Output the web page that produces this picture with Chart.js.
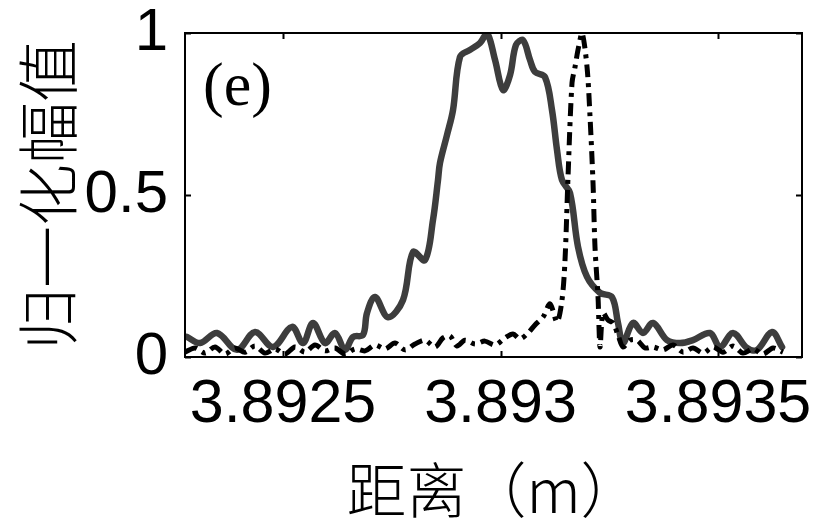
<!DOCTYPE html>
<html>
<head>
<meta charset="utf-8">
<script src="https://cdn.jsdelivr.net/npm/chart.js@4/dist/chart.umd.min.js"></script>
<style>
  html, body { margin: 0; padding: 0; background: #ffffff; }
  canvas { display: block; }
</style>
</head>
<body>
<canvas id="c" width="822" height="526"></canvas>
<script>
// ---- data ----
const distSolid = [3.8922793, 3.8923092, 3.8923483, 3.8923943, 3.8924356, 3.8924770, 3.8925207, 3.8925460,
  3.8925690, 3.8925966, 3.8926195, 3.8926425, 3.8926609, 3.8926839, 3.8926931, 3.8927115, 3.8927414,
  3.8927759, 3.8927989, 3.8928264, 3.8928448, 3.8928563, 3.8928609, 3.8928770, 3.8928908, 3.8929069,
  3.8929299, 3.8929529, 3.8929690, 3.8929874, 3.8930058, 3.8930219, 3.8930356, 3.8930517, 3.8930678,
  3.8930793, 3.8931023, 3.8931184, 3.8931299, 3.8931414, 3.8931598, 3.8931782, 3.8931989, 3.8932288,
  3.8932563, 3.8932701, 3.8932816, 3.8933046, 3.8933276, 3.8933506, 3.8933828, 3.8934127, 3.8934425,
  3.8934816, 3.8935046, 3.8935345, 3.8935667, 3.8935897, 3.8936242, 3.8936472];
const ampSolid = [0.062, 0.043, 0.074, 0.022, 0.077, 0.031, 0.093, 0.043,
  0.105, 0.043, 0.074, 0.022, 0.062, 0.068, 0.136, 0.185, 0.123,
  0.176, 0.324, 0.299, 0.423, 0.546, 0.599, 0.685, 0.762, 0.926,
  0.948, 0.969, 1.000, 0.917, 0.824, 0.870, 0.963, 0.978, 0.917,
  0.880, 0.864, 0.762, 0.639, 0.546, 0.506, 0.340, 0.247, 0.198,
  0.185, 0.105, 0.043, 0.105, 0.074, 0.105, 0.052, 0.043, 0.052,
  0.074, 0.031, 0.074, 0.028, 0.022, 0.077, 0.031];

const distDash = [3.8922747, 3.8922977, 3.8923207, 3.8923437, 3.8923667, 3.8923897, 3.8924126, 3.8924356,
  3.8924586, 3.8924816, 3.8925046, 3.8925276, 3.8925506, 3.8925736, 3.8925966, 3.8926195, 3.8926425,
  3.8926655, 3.8926885, 3.8927115, 3.8927345, 3.8927575, 3.8927805, 3.8928035, 3.8928264, 3.8928494,
  3.8928678, 3.8928839, 3.8929000, 3.8929184, 3.8929414, 3.8929644, 3.8929874, 3.8930104, 3.8930287,
  3.8930448, 3.8930632, 3.8930793, 3.8930977, 3.8931138, 3.8931299, 3.8931414, 3.8931483, 3.8931552,
  3.8931644, 3.8931713, 3.8931782, 3.8931874, 3.8931989, 3.8932058, 3.8932127, 3.8932172, 3.8932242,
  3.8932288, 3.8932356, 3.8932471, 3.8932586, 3.8932701, 3.8932816, 3.8932977, 3.8933138, 3.8933322,
  3.8933506, 3.8933736, 3.8933966, 3.8934196, 3.8934425, 3.8934655, 3.8934885, 3.8935115, 3.8935345,
  3.8935575, 3.8935805, 3.8936035, 3.8936265, 3.8936494];
const ampDash = [0.015, 0.028, 0.012, 0.031, 0.009, 0.028, 0.015, 0.034,
  0.012, 0.025, 0.009, 0.031, 0.015, 0.037, 0.019, 0.028, 0.009,
  0.025, 0.019, 0.037, 0.025, 0.043, 0.022, 0.040, 0.052, 0.031,
  0.059, 0.065, 0.034, 0.052, 0.040, 0.049, 0.037, 0.059, 0.071,
  0.056, 0.074, 0.099, 0.123, 0.164, 0.108, 0.176, 0.299, 0.556,
  0.846, 0.895, 0.948, 1.000, 0.895, 0.741, 0.537, 0.340, 0.185,
  0.031, 0.136, 0.114, 0.105, 0.068, 0.031, 0.052, 0.052, 0.028,
  0.031, 0.022, 0.037, 0.015, 0.028, 0.012, 0.031, 0.015, 0.034,
  0.012, 0.025, 0.009, 0.028, 0.015];

const xTickValues = [3.8925, 3.893, 3.8935];
const xTickLabels = ['3.8925', '3.893', '3.8935'];
const yTickValues = [0, 0.5, 1];
const yTickLabels = ['0', '0.5', '1'];
const xMin = 3.8922747, xMax = 3.8936931;
const yMin = 0, yMax = 1;
const xTitle = '距离（m）';
const yTitle = '归一化幅值';
const panelLabel = '(e)';

// ---- build chart ----
const toPoints = (xs, ys) => xs.map((v, i) => ({ x: v, y: ys[i] }));

const framePlugin = {
  id: 'frame',
  afterDatasetsDraw(chart) {
    const { ctx, chartArea: a, scales: { x, y } } = chart;
    ctx.save();
    ctx.strokeStyle = '#000';
    ctx.lineWidth = 2;
    ctx.strokeRect(a.left, a.top, a.right - a.left, a.bottom - a.top);
    const tl = 6;
    ctx.beginPath();
    x.ticks.forEach(t => {
      const p = Math.round(x.getPixelForValue(t.value)) + 0.5;
      ctx.moveTo(p, a.bottom); ctx.lineTo(p, a.bottom - tl);
      ctx.moveTo(p, a.top); ctx.lineTo(p, a.top + tl);
    });
    y.ticks.forEach(t => {
      const p = Math.round(y.getPixelForValue(t.value)) + 0.5;
      ctx.moveTo(a.left, p); ctx.lineTo(a.left + tl, p);
      ctx.moveTo(a.right, p); ctx.lineTo(a.right - tl, p);
    });
    ctx.stroke();
    ctx.fillStyle = '#000';
    ctx.font = '62px "Liberation Serif", "Times New Roman", serif';
    ctx.textBaseline = 'alphabetic';
    ctx.textAlign = 'left';
    ctx.fillText(panelLabel, a.left + 18, a.top + 72);
    ctx.restore();
  }
};

new Chart(document.getElementById('c'), {
  type: 'line',
  data: {
    datasets: [
      {
        data: toPoints(distDash, ampDash),
        borderColor: '#000000',
        borderWidth: 5,
        borderDash: [13, 6, 4, 6],
        borderCapStyle: 'butt',
        borderJoinStyle: 'round',
        pointRadius: 0,
        tension: 0.3,
        fill: false
      },
      {
        data: toPoints(distSolid, ampSolid),
        borderColor: '#3d3d3d',
        borderWidth: 6.5,
        borderCapStyle: 'round',
        borderJoinStyle: 'round',
        pointRadius: 0,
        tension: 0.35,
        fill: false
      }
    ]
  },
  options: {
    responsive: false,
    animation: false,
    events: [],
    layout: { padding: { top: 33, right: 20, left: 0, bottom: 0 } },
    plugins: { legend: { display: false }, tooltip: { enabled: false } },
    scales: {
      x: {
        type: 'linear',
        min: xMin, max: xMax,
        grid: { display: false, drawTicks: false },
        border: { display: false },
        afterBuildTicks: s => { s.ticks = xTickValues.map(v => ({ value: v })); },
        afterFit: s => { s.height = 169; s.paddingLeft = 0; s.paddingRight = 0; },
        ticks: {
          color: '#000',
          padding: 12,
          maxRotation: 0,
          autoSkip: false,
          font: { family: '"Liberation Sans", Arial, sans-serif', size: 61 },
          callback: v => { const i = xTickValues.indexOf(v); return i >= 0 ? xTickLabels[i] : ''; }
        },
        title: {
          display: true,
          text: xTitle,
          color: '#000',
          padding: { top: 0, bottom: 0 },
          font: { family: '"Noto Sans CJK SC", sans-serif', size: 60, weight: 300 }
        }
      },
      y: {
        type: 'linear',
        min: yMin, max: yMax,
        grid: { display: false, drawTicks: false },
        border: { display: false },
        afterBuildTicks: s => { s.ticks = yTickValues.map(v => ({ value: v })); },
        afterFit: s => { s.width = 185; s.paddingTop = 0; s.paddingBottom = 0; },
        ticks: {
          color: '#000',
          padding: 17,
          autoSkip: false,
          font: { family: '"Liberation Sans", Arial, sans-serif', size: 60 },
          callback: v => { const i = yTickValues.indexOf(v); return i >= 0 ? yTickLabels[i] : ''; }
        },
        title: {
          display: true,
          text: yTitle,
          color: '#000',
          padding: { top: 11, bottom: 0 },
          font: { family: '"Noto Sans CJK SC", sans-serif', size: 62, weight: 300 }
        }
      }
    }
  },
  plugins: [framePlugin]
});
</script>
</body>
</html>
